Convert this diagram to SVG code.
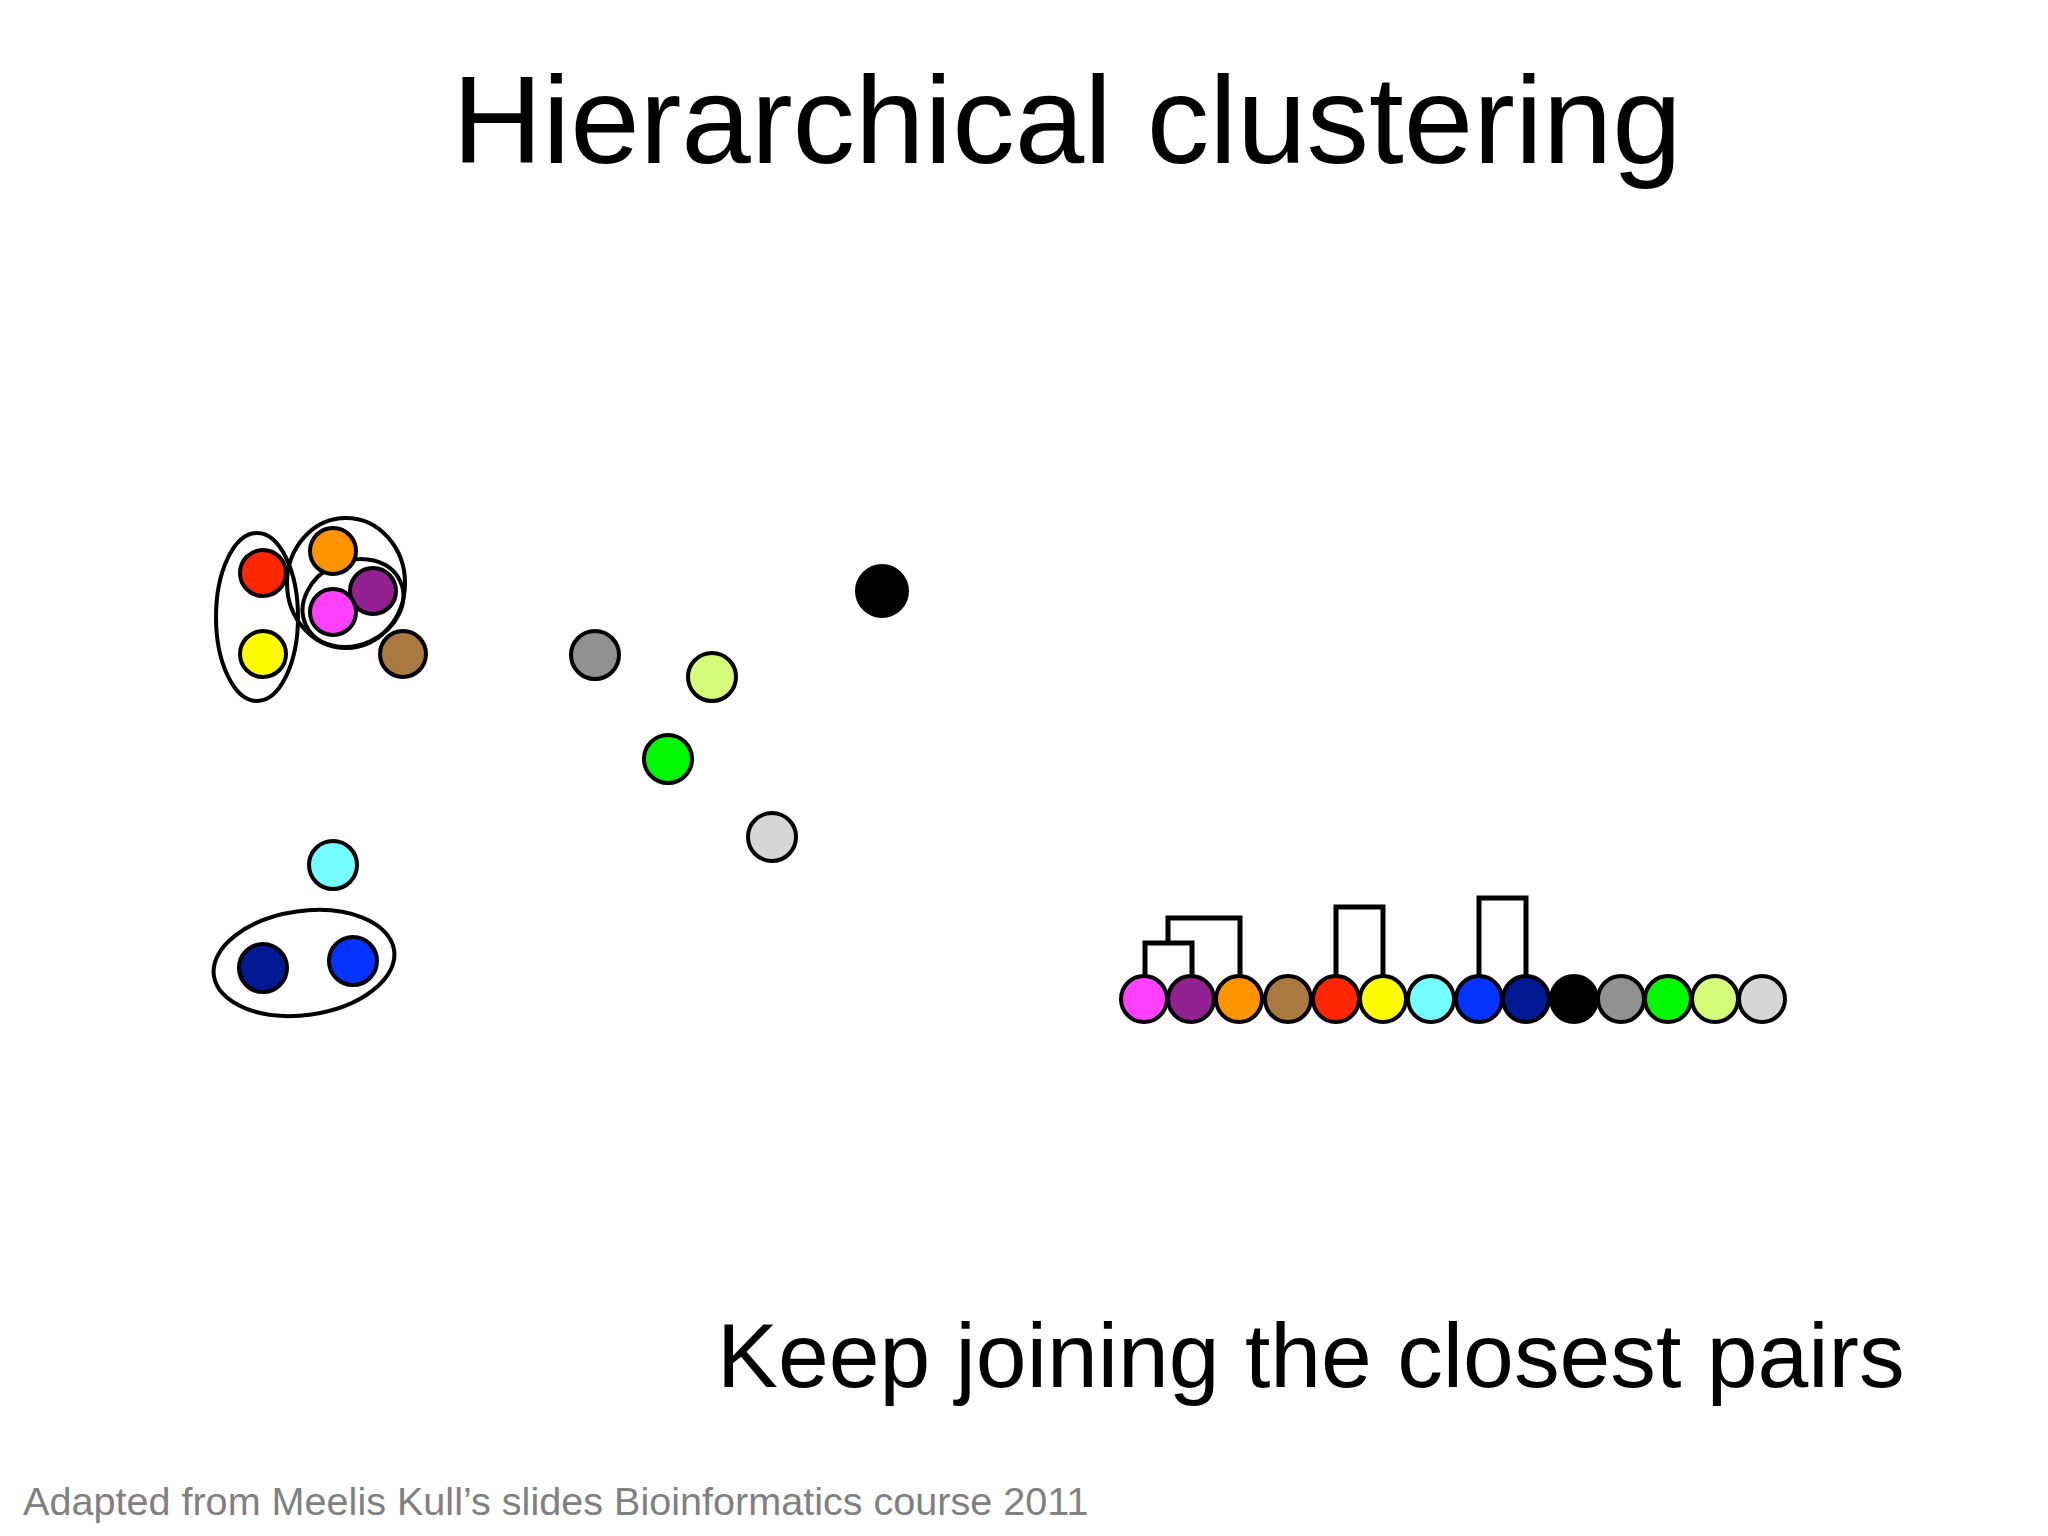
<svg xmlns="http://www.w3.org/2000/svg" width="2048" height="1536" viewBox="0 0 2048 1536">
<style>
.pt{stroke:#000;stroke-width:4}
.cl{fill:none;stroke:#000;stroke-width:4}
.dg{fill:none;stroke:#000;stroke-width:5;stroke-linejoin:miter}
.t{font-family:"Liberation Sans",Arial,sans-serif}
</style>
<rect width="2048" height="1536" fill="#fff"/>
<text class="t" x="1067" y="163" font-size="125" text-anchor="middle" fill="#000">Hierarchical clustering</text>
<g id="clusters">
<ellipse class="cl" cx="257" cy="617" rx="41" ry="84"/>
<ellipse class="cl" cx="346" cy="583" rx="59" ry="65"/>
<ellipse class="cl" cx="353" cy="603" rx="52" ry="42" transform="rotate(-25 353 603)"/>
<ellipse class="cl" cx="304" cy="963" rx="91" ry="52" transform="rotate(-8 304 963)"/>
</g>
<g id="points">
<circle id="p-red" class="pt" cx="263" cy="573" r="23" fill="#ff2600"/>
<circle id="p-yellow" class="pt" cx="263" cy="654" r="23" fill="#fffb00"/>
<circle id="p-orange" class="pt" cx="333" cy="551" r="23" fill="#ff9300"/>
<circle id="p-purple" class="pt" cx="373" cy="591" r="23" fill="#942192"/>
<circle id="p-magenta" class="pt" cx="333" cy="612" r="23" fill="#ff40ff"/>
<circle id="p-brown" class="pt" cx="403" cy="654" r="23" fill="#aa7942"/>
<circle id="p-cyan" class="pt" cx="333" cy="865" r="24" fill="#73fdff"/>
<circle id="p-darkblue" class="pt" cx="263" cy="968" r="24" fill="#011993"/>
<circle id="p-blue" class="pt" cx="353" cy="961" r="24" fill="#0433ff"/>
<circle id="p-black" class="pt" cx="882" cy="591" r="25" fill="#000"/>
<circle id="p-gray" class="pt" cx="595" cy="655" r="24" fill="#919191"/>
<circle id="p-lightgreen" class="pt" cx="712" cy="677" r="24" fill="#d4fb79"/>
<circle id="p-green" class="pt" cx="668" cy="759" r="24" fill="#00f900"/>
<circle id="p-lightgray" class="pt" cx="772" cy="837" r="24" fill="#d6d6d6"/>
</g>
<g id="dendrogram-links">
<path class="dg" d="M1145,976 V943 H1192 V976"/>
<path class="dg" d="M1168,943 V918 H1240 V976"/>
<path class="dg" d="M1336,976 V907 H1383 V976"/>
<path class="dg" d="M1479,976 V898 H1526 V976"/>
</g>
<g id="dendrogram-leaves">
<circle class="pt" cx="1144" cy="999" r="23" fill="#ff40ff"/>
<circle class="pt" cx="1191" cy="999" r="23" fill="#942192"/>
<circle class="pt" cx="1239" cy="999" r="23" fill="#ff9300"/>
<circle class="pt" cx="1288" cy="999" r="23" fill="#aa7942"/>
<circle class="pt" cx="1336" cy="999" r="23" fill="#ff2600"/>
<circle class="pt" cx="1383" cy="999" r="23" fill="#fffb00"/>
<circle class="pt" cx="1431" cy="999" r="23" fill="#73fdff"/>
<circle class="pt" cx="1479" cy="999" r="23" fill="#0433ff"/>
<circle class="pt" cx="1526" cy="999" r="23" fill="#011993"/>
<circle class="pt" cx="1574" cy="999" r="23" fill="#000"/>
<circle class="pt" cx="1621" cy="999" r="23" fill="#919191"/>
<circle class="pt" cx="1668" cy="999" r="23" fill="#00f900"/>
<circle class="pt" cx="1715" cy="999" r="23" fill="#d4fb79"/>
<circle class="pt" cx="1762" cy="999" r="23" fill="#d6d6d6"/>
</g>
<text class="t" x="717" y="1387" font-size="91.3" fill="#000">Keep joining the closest pairs</text>
<text class="t" x="23" y="1515" font-size="39.6" fill="#808080">Adapted from Meelis Kull’s slides Bioinformatics course 2011</text>
</svg>
